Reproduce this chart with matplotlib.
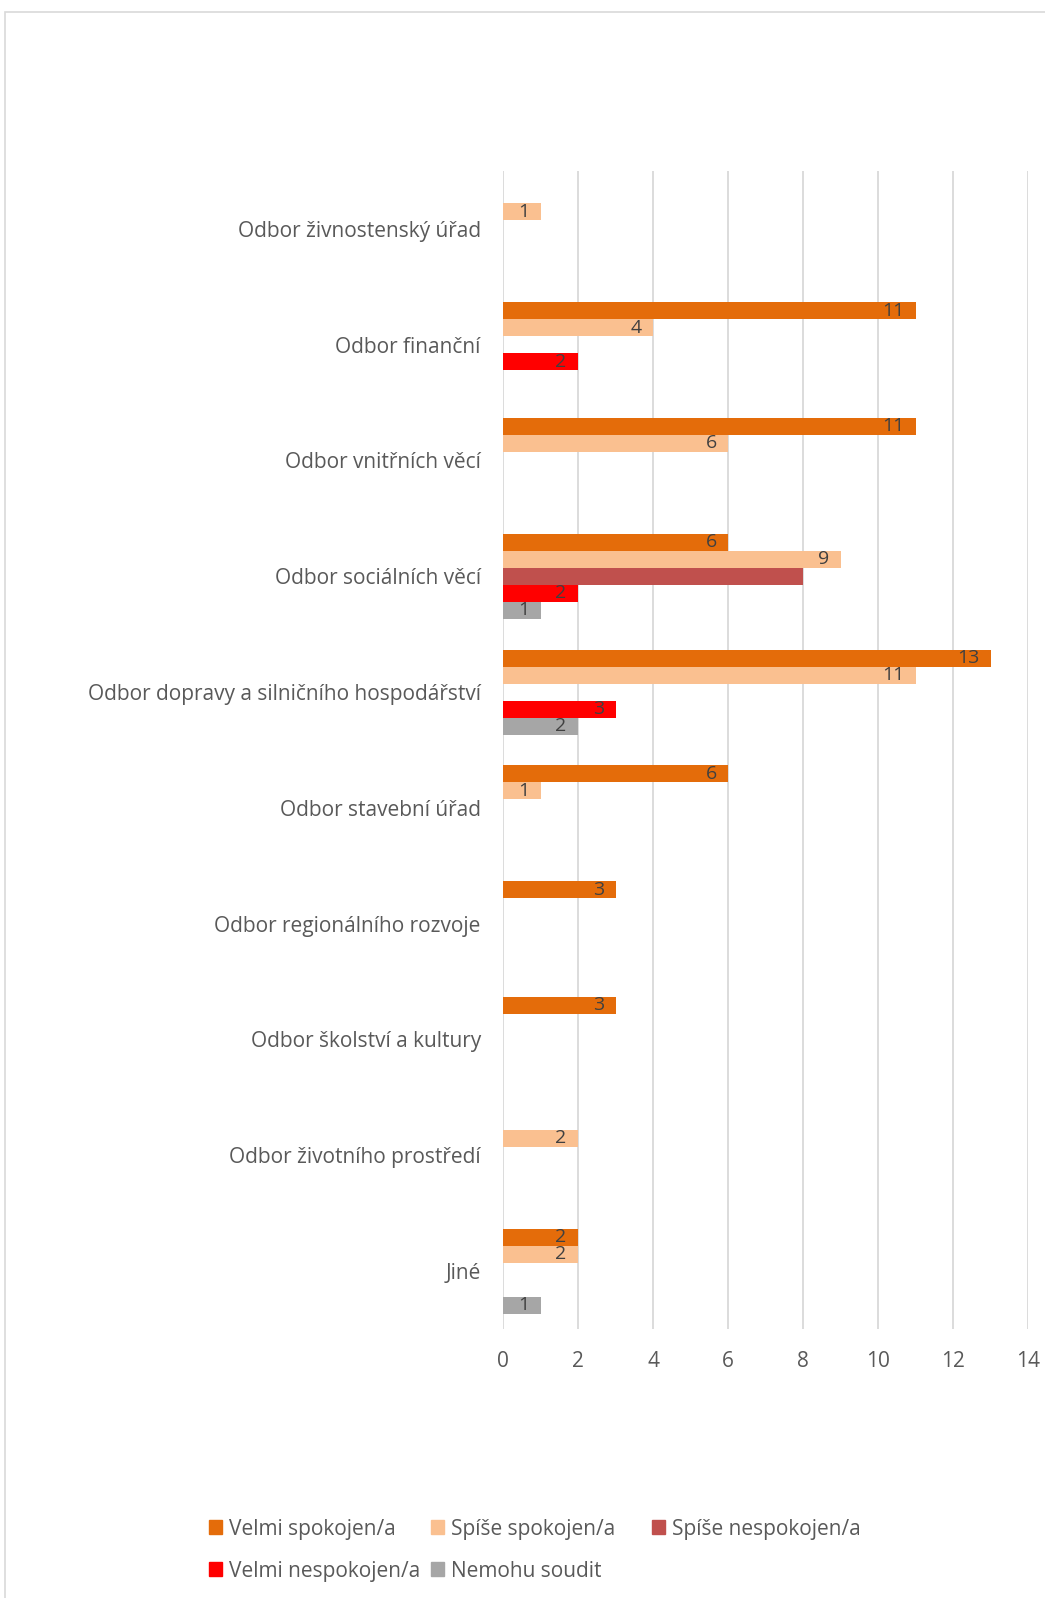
import numpy as np
import matplotlib.pyplot as plt
from matplotlib.patches import Rectangle, Patch

# Categories (top to bottom)
categories = [
    "Odbor živnostenský úřad",
    "Odbor finanční",
    "Odbor vnitřních věcí",
    "Odbor sociálních věcí",
    "Odbor dopravy a silničního hospodářství",
    "Odbor stavební úřad",
    "Odbor regionálního rozvoje",
    "Odbor školství a kultury",
    "Odbor životního prostředí",
    "Jiné",
]

series_names = ["Velmi spokojen/a", "Spíše spokojen/a", "Spíše nespokojen/a",
                "Velmi nespokojen/a", "Nemohu soudit"]

velmi_spokojen = [0, 11, 11, 6, 13, 6, 3, 3, 0, 2]
spise_spokojen = [1, 4, 6, 9, 11, 1, 0, 0, 2, 2]
spise_nespokojen = [0, 0, 0, 8, 0, 0, 0, 0, 0, 0]
velmi_nespokojen = [0, 2, 0, 2, 3, 0, 0, 0, 0, 0]
nemohu_soudit = [0, 0, 0, 1, 2, 0, 0, 0, 0, 1]

x_ticks = [0, 2, 4, 6, 8, 10, 12, 14]

colors = ["#E46C0A", "#FAC090", "#C0504D", "#FF0000", "#A6A6A6"]
show_labels = [True, True, False, True, True]

series = [velmi_spokojen, spise_spokojen, spise_nespokojen,
          velmi_nespokojen, nemohu_soudit]

plt.rcParams['font.family'] = ['Open Sans', 'DejaVu Sans']
text_col = "#595959"

fig = plt.figure(figsize=(10.45, 15.98), dpi=100)
ax = fig.add_axes([503 / 1045, 1 - 1329 / 1598, 525 / 1045, 1158 / 1598])

n = len(series)
h = 1 / (n + 1.8)
y = np.arange(len(categories))

for i, (vals, col) in enumerate(zip(series, colors)):
    pos = y - (n * h) / 2 + h * (i + 0.5)
    vals = np.array(vals)
    ax.barh(pos, vals, height=h, color=col, zorder=3)
    if show_labels[i]:
        for p, v in zip(pos, vals):
            if v > 0:
                ax.text(v - 0.3, p, str(v), ha="right", va="center",
                        fontsize=14, color="#404040", zorder=4)

ax.set_ylim(len(categories) - 0.5, -0.5)
ax.set_xlim(0, 14)
ax.set_yticks(y)
ax.set_yticklabels(categories, fontsize=15, color=text_col)
ax.set_xticks(x_ticks)
ax.set_xticklabels([str(t) for t in x_ticks], fontsize=15, color=text_col)
ax.tick_params(axis="both", length=0)
ax.tick_params(axis="y", pad=16)
ax.tick_params(axis="x", pad=16)
ax.grid(axis="x", color="#D9D9D9", linewidth=1.3, zorder=0)
for s in ax.spines.values():
    s.set_visible(False)

# legend: three equal-width columns, filled row by row like the original
legend_cols = [[0, 3], [1, 4], [2]]
legend_x = [190, 412, 633]
for idx, lx in zip(legend_cols, legend_x):
    leg = fig.legend([Patch(color=colors[k]) for k in idx],
                     [series_names[k] for k in idx], loc="upper left",
                     bbox_to_anchor=(lx / 1045, 1 - 1500 / 1598),
                     frameon=False, fontsize=15, labelcolor=text_col,
                     handlelength=0.65, handleheight=0.65,
                     handletextpad=0.3, labelspacing=1.0)

# outer chart border (left and top visible)
fig.add_artist(Rectangle((4.5 / 1045, -0.1), 1.2, 1.1 - 12.5 / 1598,
                         transform=fig.transFigure, fill=False,
                         edgecolor="#D9D9D9", linewidth=1.2))

fig.savefig("out.png", dpi=100)
